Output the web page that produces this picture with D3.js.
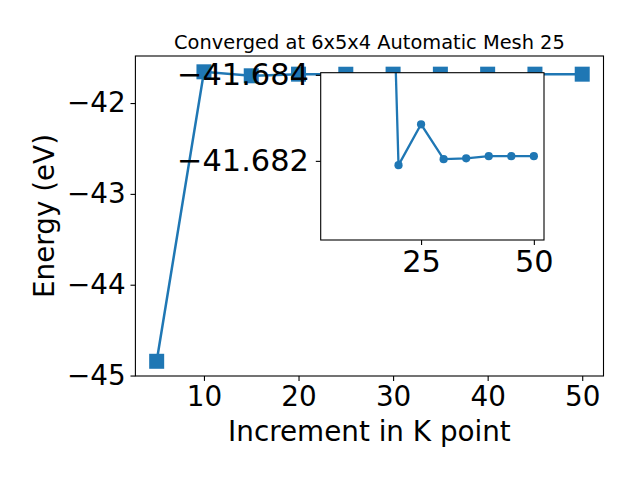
<!DOCTYPE html>
<html><head><meta charset="utf-8">
<script src="https://cdn.jsdelivr.net/npm/d3@7"></script>
<style>body{margin:0;background:#fff}svg{display:block}text{font-family:"DejaVu Sans",sans-serif}</style>
</head><body><svg id="c" width="640" height="480"></svg>
<script>
const kpoints = [5,10,15,20,25,30,35,40,45,50];
const energy = [-44.843,-41.656,-41.700,-41.6819,-41.68285,-41.68204,-41.68206,-41.68211,-41.68211,-41.68211];
const insetFrom = 2; // inset shows the points from 15 onwards
const mainXTicks = [10,20,30,40,50];
const mainYTicks = [-42,-43,-44,-45];
const insetXTicks = [25,50];
const insetYTicks = [-41.684,-41.682];
const titleText = "Converged at 6x5x4 Automatic Mesh 25";
const xLabel = "Increment in K point";
const yLabel = "Energy (eV)";
const color = "#1f77b4";

const svg = d3.select("#c");
svg.append("rect").attr("width",640).attr("height",480).attr("fill","#fff");
const L=135.4,R=603.5,T=56,B=376;
const x = d3.scaleLinear().domain([2.75,52.25]).range([L,R]);
const y = d3.scaleLinear().domain([-45.005,-41.482]).range([B,T]);
const fs = 27.8, fsi = 30.4;
const minus = s => s.replace("-","\u2212");

// main axes
const gx = svg.append("g").attr("transform",`translate(0,${B})`)
  .call(d3.axisBottom(x).tickValues(mainXTicks).tickSize(4.9).tickPadding(4.9).tickFormat(d3.format("d")));
const gy = svg.append("g").attr("transform",`translate(${L},0)`)
  .call(d3.axisLeft(y).tickValues(mainYTicks).tickSize(4.9).tickPadding(4.9).tickFormat(d=>minus(d3.format("d")(d))));
[gx,gy].forEach(g=>{g.select(".domain").remove();g.selectAll("line").attr("stroke","#000").attr("stroke-width",1.1);g.selectAll("text").attr("font-size",fs).attr("font-family","DejaVu Sans").attr("fill","#000");});
svg.append("rect").attr("x",L).attr("y",T).attr("width",R-L).attr("height",B-T).attr("fill","none").attr("stroke","#000").attr("stroke-width",1.1);

const line = d3.line().x((d,i)=>x(kpoints[i])).y(d=>y(d));
svg.append("path").datum(energy).attr("d",line).attr("fill","none").attr("stroke",color).attr("stroke-width",2.5);
const ms=15;
svg.selectAll(".sq").data(energy).join("rect").attr("x",(d,i)=>x(kpoints[i])-ms/2).attr("y",d=>y(d)-ms/2)
  .attr("width",ms).attr("height",ms).attr("fill",color);

svg.append("text").attr("x",(L+R)/2).attr("y",49).attr("text-anchor","middle").attr("font-size",19.4).text(titleText);
svg.append("text").attr("x",(L+R)/2).attr("y",441).attr("text-anchor","middle").attr("font-size",fs).text(xLabel);
svg.append("text").attr("transform",`translate(54,${(T+B)/2}) rotate(-90)`).attr("text-anchor","middle").attr("font-size",fs).text(yLabel);

// inset
const iL=320.7,iR=544,iT=72.7,iB=240;
const ik = kpoints.slice(insetFrom), ie = energy.slice(insetFrom);
const xi = d3.scaleLinear().domain([2.75,52.25]).range([iL,iR]);
const yi = d3.scaleLinear().domain([-41.68405,-41.68016]).range([iT,iB]);
const ig = svg.append("g");
ig.append("rect").attr("x",iL).attr("y",iT).attr("width",iR-iL).attr("height",iB-iT).attr("fill","#fff");
svg.append("defs").append("clipPath").attr("id","ic").append("rect").attr("x",iL).attr("y",iT).attr("width",iR-iL).attr("height",iB-iT);
const pg = ig.append("g").attr("clip-path","url(#ic)");
const iline = d3.line().x((d,i)=>xi(ik[i])).y(d=>yi(d));
pg.append("path").datum(ie).attr("d",iline).attr("fill","none").attr("stroke",color).attr("stroke-width",2.3);
pg.selectAll("circle").data(ie).join("circle").attr("cx",(d,i)=>xi(ik[i])).attr("cy",d=>yi(d)).attr("r",4.1).attr("fill",color);
const igx = ig.append("g").attr("transform",`translate(0,${iB})`).call(d3.axisBottom(xi).tickValues(insetXTicks).tickSize(4.9).tickPadding(5.1).tickFormat(d3.format("d")));
const igy = ig.append("g").attr("transform",`translate(${iL},0)`).call(d3.axisLeft(yi).tickValues(insetYTicks).tickSize(4.9).tickPadding(7).tickFormat(d=>minus(d3.format(".3f")(d))));
[igx,igy].forEach(g=>{g.select(".domain").remove();g.selectAll("line").attr("stroke","#000").attr("stroke-width",1.1);g.selectAll("text").attr("font-size",fsi).attr("font-family","DejaVu Sans").attr("fill","#000");});
ig.append("rect").attr("x",iL).attr("y",iT).attr("width",iR-iL).attr("height",iB-iT).attr("fill","none").attr("stroke","#000").attr("stroke-width",1.1);
</script></body></html>
